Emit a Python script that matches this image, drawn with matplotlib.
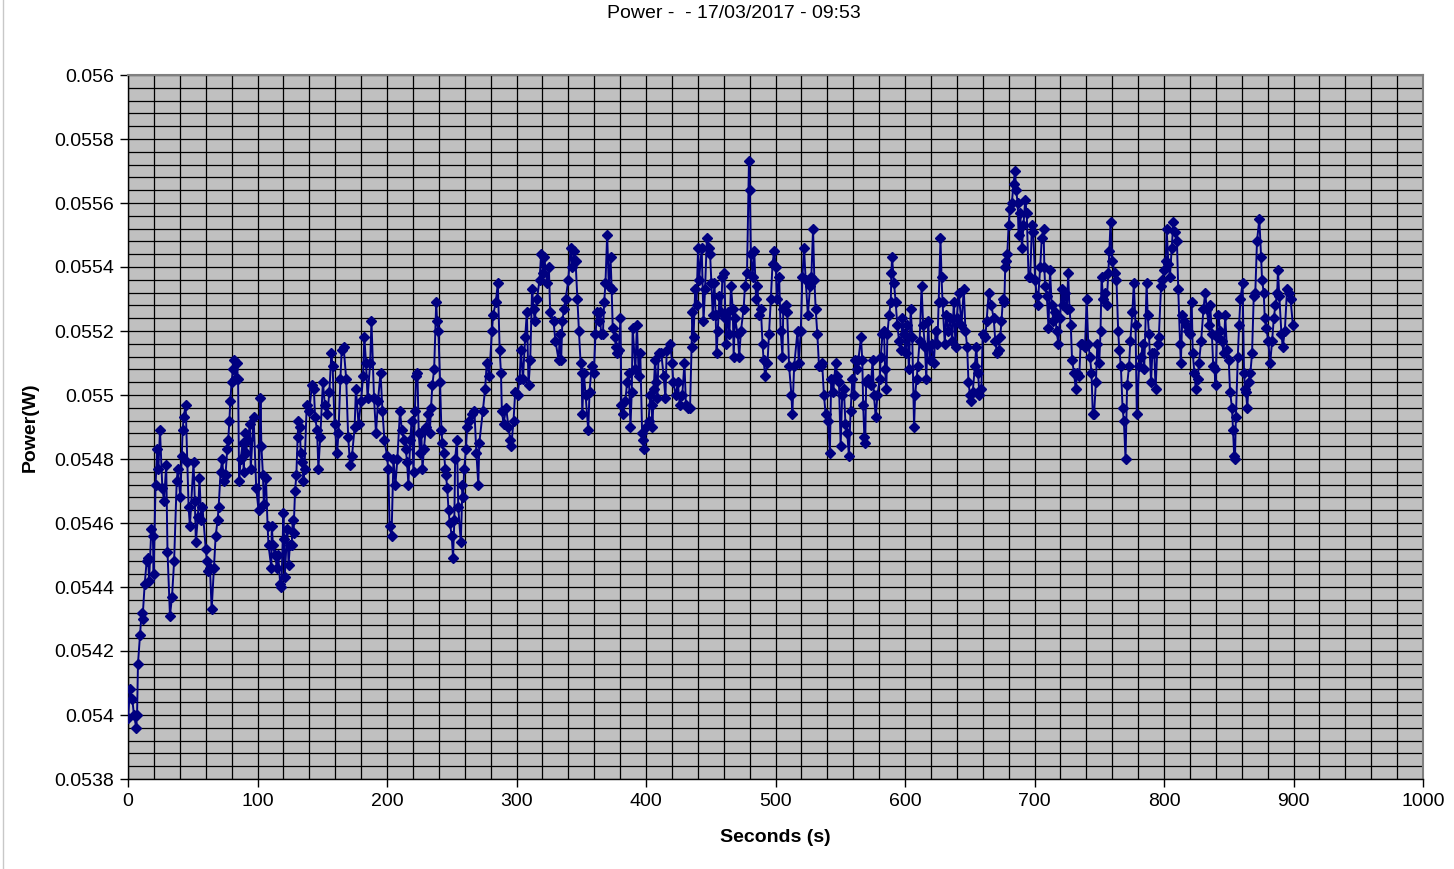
import numpy as np
import matplotlib
matplotlib.use("Agg")
import matplotlib.pyplot as plt
from matplotlib.ticker import MultipleLocator, FuncFormatter
from matplotlib.lines import Line2D

plt.rcParams['font.family'] = ['Liberation Sans', 'DejaVu Sans']

TITLE = "Power -  - 17/03/2017 - 09:53"
X_LABEL = "Seconds (s)"
Y_LABEL = "Power(W)"

# ---- data: time (s) and power (mW), in segments ----
t_a = [0, 1.5, 3.3, 4.6, 6.4, 7.0, 7.7, 9.3, 10.5, 11.2, 12.9, 14.4, 15.5, 16.3, 18, 19.2, 19.8,
       21.3, 22.5, 23.5, 24.7, 26.5, 27.8, 29.5, 30.5, 32.4, 34, 35.6, 37.6, 38.5, 40.4, 41.5, 42.2,
       43, 44.5, 45.8, 46.8, 47.8, 50.6, 51.6, 52.4, 54, 55.2, 56.5, 57.5, 60, 61, 61.8, 63.3, 64.6,
       66.4, 67.7, 69.2, 70, 71.5, 72.8, 73.8, 75.3, 76.6, 77.4, 78.3, 79, 80, 81, 82, 83, 84, 85,
       85.8, 87, 88.6, 89.4, 90.3, 91, 92.5, 94.2, 94.8, 97, 99, 100.8, 102.3, 103, 104.2, 104.9,
       106.5, 107.8, 108.5, 110.7]
p_a = [53.99, 54.08, 54.05, 54.00, 53.96, 54.00, 54.16, 54.25, 54.32, 54.30, 54.41, 54.48, 54.49,
       54.42, 54.58, 54.56, 54.44, 54.72, 54.83, 54.77, 54.89, 54.71, 54.67, 54.78, 54.51, 54.31,
       54.37, 54.48, 54.73, 54.77, 54.68, 54.81, 54.89, 54.93, 54.97, 54.79, 54.65, 54.59, 54.79,
       54.67, 54.54, 54.62, 54.74, 54.61, 54.65, 54.52, 54.48, 54.45, 54.46, 54.33, 54.46, 54.56,
       54.61, 54.65, 54.76, 54.80, 54.73, 54.75, 54.83, 54.86, 54.92, 54.98, 55.04, 55.08, 55.11,
       55.05, 55.10, 55.05, 54.73, 54.80, 54.85, 54.76, 54.88, 54.82, 54.86, 54.91, 54.77, 54.93,
       54.71, 54.64, 54.99, 54.84, 54.75, 54.66, 54.74, 54.59, 54.53, 54.46]

t_b = [111, 112, 113.5, 115, 116, 117.5, 118.5, 120, 120.5, 121, 123, 124, 125, 126.4, 127.2, 127.8,
       129, 130, 131, 131.6, 132.6, 133.4, 134.6, 135.5, 136.3, 138, 140, 142, 143.5, 144.5, 146,
       147, 148.5, 150.5, 152, 154, 155.5, 157, 158, 159.5, 161.5, 162.5, 164, 165, 166.5, 168.5,
       170, 171.5, 173, 175, 176, 178, 180, 181.5, 182.5, 183.8, 185, 187, 188, 190, 191.5, 193,
       195, 196.5, 198, 200, 201, 202, 203.5, 205, 206.5, 208, 210, 211.5, 213, 214.5, 215.5,
       216.5, 218, 219, 220.5, 221.5, 222.5, 223.5]
p_b = [54.59, 54.53, 54.50, 54.46, 54.50, 54.41, 54.40, 54.63, 54.55, 54.43, 54.58, 54.47, 54.53,
       54.53, 54.61, 54.57, 54.70, 54.75, 54.87, 54.92, 54.90, 54.82, 54.79, 54.73, 54.77, 54.97,
       54.95, 55.03, 55.02, 54.93, 54.89, 54.77, 54.87, 55.04, 54.97, 54.94, 55.01, 55.13, 55.09,
       54.91, 54.82, 54.88, 55.05, 55.14, 55.15, 55.05, 54.87, 54.78, 54.81, 54.90, 55.02, 54.91,
       54.98, 55.06, 55.18, 55.10, 54.99, 55.10, 55.23, 54.99, 54.88, 54.98, 55.07, 54.95, 54.86,
       54.81, 54.77, 54.59, 54.56, 54.80, 54.72, 54.80, 54.95, 54.89, 54.86, 54.83, 54.79, 54.72,
       54.86, 54.92, 54.76, 54.95, 55.06, 55.07]

t_c = [224.5, 225.5, 226.5, 227.4, 228.5, 230, 232, 233, 234, 235, 236.4, 238, 238.7, 239.7, 241,
       242, 242.8, 244, 245, 245.5, 246.5, 247.5, 248.5, 250, 251, 252, 252.6, 254, 255, 257,
       258.3, 258.8, 259.6, 261, 261.8, 263.7, 265.5, 267.5, 269, 270.5, 271.3, 274, 275.8, 277,
       279, 281, 282, 284, 285.6, 287, 288, 288.7, 290, 292, 293.8, 295.2, 296, 297.7, 299, 300.8,
       302.4, 303.4, 305, 306.7, 308, 309.3, 310.6, 312, 313.3, 314, 315.8, 317.8, 319, 320.5,
       321.5, 323.5, 325, 326, 328.6, 330, 332.5]
p_c = [54.88, 54.82, 54.88, 54.77, 54.83, 54.90, 54.94, 54.88, 54.96, 55.03, 55.08, 55.29, 55.23,
       55.20, 55.04, 54.89, 54.85, 54.82, 54.77, 54.75, 54.71, 54.64, 54.60, 54.56, 54.49, 54.61,
       54.80, 54.86, 54.65, 54.54, 54.72, 54.68, 54.77, 54.83, 54.90, 54.92, 54.94, 54.95, 54.82,
       54.72, 54.85, 54.95, 55.02, 55.10, 55.06, 55.20, 55.25, 55.29, 55.35, 55.14, 55.07, 54.95,
       54.91, 54.96, 54.90, 54.86, 54.84, 54.92, 55.01, 55.00, 55.05, 55.14, 55.05, 55.18, 55.26,
       55.03, 55.11, 55.33, 55.27, 55.23, 55.30, 55.36, 55.44, 55.38, 55.43, 55.35, 55.40, 55.26,
       55.23, 55.17, 55.11]

t_d = [333.5, 334.5, 335.4, 336.7, 338, 340, 341.8, 343, 344.4, 345.6, 347, 348.2, 349.5, 350.3,
       350.8, 352, 353.3, 355.4, 356.4, 358, 359.7, 361, 362.3, 363.6, 364.5, 365.3, 366.7, 367.7,
       368.7, 370, 371.3, 372.6, 373.5, 374.3, 376, 377, 377.7, 379, 380.3, 381, 382.3, 384, 385.4,
       386.7, 388, 389, 389.7, 391.8, 393, 394.4, 395.6, 397, 397.8, 398.5, 400, 402, 403.3, 404.3,
       405, 406, 407, 408, 408.8, 409.7, 411.8, 413.6, 415, 416, 418.7, 420.2, 421, 423, 424.6,
       426, 428, 429.7, 430.8, 432.8, 434, 435.2, 435.8, 436.7, 438, 439, 440.2, 441, 443, 444.4,
       445.6, 447]
p_d = [55.19, 55.11, 55.23, 55.27, 55.30, 55.36, 55.46, 55.40, 55.45, 55.42, 55.30, 55.20, 55.10,
       55.07, 54.94, 55.07, 55.00, 54.89, 55.01, 55.09, 55.07, 55.19, 55.26, 55.23, 55.26, 55.19,
       55.19, 55.29, 55.35, 55.50, 55.34, 55.43, 55.33, 55.21, 55.18, 55.15, 55.13, 55.14, 55.24,
       54.97, 54.94, 54.98, 55.04, 55.07, 54.90, 55.01, 55.21, 55.08, 55.22, 55.06, 55.13, 54.88,
       54.86, 54.83, 54.90, 54.92, 55.00, 54.97, 54.90, 55.02, 55.11, 55.04, 54.99, 55.13, 55.13,
       55.06, 54.99, 55.14, 55.16, 55.10, 55.04, 55.00, 55.04, 54.97, 55.00, 55.10, 54.97, 54.96,
       54.96, 55.15, 55.26, 55.18, 55.33, 55.28, 55.46, 55.36, 55.46, 55.23, 55.33, 55.49]

t_e = [448.5, 449.5, 450.5, 451.5, 452.8, 453.8, 454.5, 455.4, 456.7, 458, 459, 460.5, 461.3, 462,
       463, 464.4, 465.6, 467, 467.7, 468.7, 470.8, 472, 473.3, 475.4, 476.4, 478, 479.5, 480.2,
       481, 482.3, 483.6, 485, 486, 487.4, 488.7, 490, 490.8, 492, 493.8, 495, 496.4, 497.7, 499,
       500.3, 501, 502.8, 504, 505.4, 506, 508, 509, 510.5, 512.3, 513, 514.4, 517, 518, 519.5,
       520.8, 522, 523.3, 525, 526.7, 527.7, 529, 530, 531, 532.3, 533.6, 535, 536, 537.4, 538.7,
       540.5, 542, 543, 544.6, 546.4, 547.7, 549, 550.3, 551.5, 552.8, 554, 555.4, 556.7, 558,
       559.3]
p_e = [55.46, 55.44, 55.35, 55.25, 55.35, 55.25, 55.13, 55.20, 55.31, 55.26, 55.37, 55.38, 55.24,
       55.16, 55.26, 55.19, 55.34, 55.27, 55.12, 55.24, 55.19, 55.12, 55.20, 55.27, 55.34, 55.38,
       55.73, 55.64, 55.44, 55.37, 55.45, 55.30, 55.34, 55.25, 55.27, 55.16, 55.11, 55.06, 55.10,
       55.19, 55.30, 55.41, 55.45, 55.40, 55.30, 55.37, 55.20, 55.12, 55.27, 55.28, 55.26, 55.09,
       55.00, 54.94, 55.09, 55.20, 55.10, 55.20, 55.37, 55.46, 55.36, 55.25, 55.34, 55.37, 55.52,
       55.36, 55.27, 55.19, 55.09, 55.09, 55.10, 55.00, 54.94, 54.92, 54.82, 55.05, 55.01, 55.10,
       55.06, 55.04, 54.84, 55.00, 55.02, 54.91, 54.88, 54.81, 54.95, 55.05]

t_f = [560.8, 561.5, 562.6, 564, 566, 567, 567.7, 568.6, 569.3, 570, 571.8, 573.6, 575, 576, 577.4,
       578.7, 580.5, 581.3, 582.6, 583.8, 584.6, 585.6, 586.4, 587.7, 589, 589.5, 590, 591.5,
       592.8, 594, 595.4, 596.7, 598, 599, 600.5, 601.8, 603, 604.4, 605.6, 607, 607.8, 609, 609.8,
       611.3, 612.8, 614, 615.4, 616.4, 618, 619, 620.5, 622.3, 623.6, 625, 626, 627.4, 628.2,
       629, 630.7, 631.8, 633.3, 635, 636.4, 637.7, 639, 640, 641.5, 643.6, 645.4, 646.7, 648,
       649, 650.2, 650.8, 652.3, 654, 655, 656.4, 657.5, 659, 660, 662, 663, 664.6, 666.6, 668.5,
       669.7, 671]
p_f = [55.00, 55.11, 55.08, 55.11, 55.18, 55.11, 54.97, 54.87, 54.85, 55.04, 55.05, 55.03, 55.11,
       55.00, 54.93, 55.00, 55.05, 55.12, 55.19, 55.20, 55.08, 55.02, 55.19, 55.25, 55.29, 55.38,
       55.43, 55.35, 55.29, 55.22, 55.17, 55.14, 55.24, 55.19, 55.13, 55.22, 55.08, 55.27, 55.18,
       54.90, 55.00, 55.05, 55.09, 55.17, 55.34, 55.22, 55.15, 55.05, 55.23, 55.11, 55.16, 55.10,
       55.20, 55.16, 55.29, 55.49, 55.37, 55.29, 55.16, 55.25, 55.20, 55.24, 55.17, 55.29, 55.15,
       55.24, 55.32, 55.22, 55.33, 55.20, 55.15, 55.04, 55.00, 54.98, 55.01, 55.09, 55.15, 55.07,
       55.00, 55.02, 55.19, 55.18, 55.23, 55.32, 55.28, 55.24, 55.17, 55.13]

t_g = [672.5, 673.5, 674.5, 675.6, 676.7, 677.4, 678, 679, 680, 681, 682.5, 683.8, 685, 685.8, 687,
       687.7, 689, 690.3, 691.5, 692.8, 694, 695.4, 696.7, 698, 699, 700.5, 701.8, 702.5, 704.4,
       705.6, 707, 707.6, 708.2, 709.5, 710.8, 712, 713.3, 714.6, 716, 717, 718.5, 719.7, 721,
       722.3, 723.6, 725, 726, 727, 728, 729, 730.5, 731.8, 733, 734.6, 735.6, 737, 739, 740.3,
       741.5, 742.8, 744, 745, 746, 747.4, 748.5, 750, 751, 751.8, 753, 754.4, 755.6, 757, 757.8,
       758.7, 760, 762, 763.3, 764.6, 765.5, 766.7, 768, 769, 770.3, 771.5, 773, 774, 775.6,
       776.7, 778, 779, 780.7, 782.5]
p_g = [55.14, 55.18, 55.23, 55.30, 55.29, 55.40, 55.42, 55.44, 55.53, 55.58, 55.60, 55.66, 55.70,
       55.64, 55.60, 55.50, 55.57, 55.46, 55.53, 55.61, 55.57, 55.37, 55.37, 55.53, 55.51, 55.36,
       55.31, 55.28, 55.40, 55.49, 55.52, 55.40, 55.34, 55.31, 55.21, 55.39, 55.28, 55.23, 55.26,
       55.20, 55.16, 55.24, 55.33, 55.28, 55.32, 55.27, 55.38, 55.27, 55.22, 55.11, 55.07, 55.02,
       55.07, 55.06, 55.16, 55.16, 55.15, 55.30, 55.16, 55.12, 55.07, 54.94, 54.94, 55.04, 55.16,
       55.10, 55.20, 55.37, 55.30, 55.32, 55.28, 55.38, 55.45, 55.54, 55.42, 55.38, 55.36, 55.20,
       55.14, 55.09, 54.96, 54.92, 54.80, 55.03, 55.09, 55.17, 55.26, 55.35, 55.22, 54.94, 55.09,
       55.12]

t_h = [783.5, 784.7, 786.6, 787.4, 788.4, 790, 791, 792.5, 793.5, 795, 796, 797.7, 798.7, 800.3,
       801.3, 802, 803.4, 804.6, 806, 807.2, 808.5, 810, 811, 812.4, 813, 814.2, 815.8, 816.8,
       818.3, 820, 821.4, 822.2, 823.5, 824.5, 826, 827, 828.7, 830.5, 831.8, 833, 834.4, 835.7,
       837, 838, 839, 839.8, 840.8, 842, 843.4, 844.7, 846, 847.3, 848.6, 850, 851, 852.5, 853.3,
       854.2, 854.8, 855.5, 857, 858, 859, 860.7, 861.8, 862.5, 863.3, 864.3, 865.4, 866.7, 868,
       869.3, 870.5, 871.8, 873.6, 875, 875.7, 877, 877.8, 879, 880.4, 882, 883.5, 884.8, 886,
       887.4, 888, 889, 890.7, 891.7, 893.3, 895, 896.3, 897.7, 899.5]
p_h = [55.16, 55.08, 55.35, 55.25, 55.19, 55.04, 55.13, 55.13, 55.02, 55.16, 55.18, 55.34, 55.36,
       55.39, 55.42, 55.52, 55.41, 55.37, 55.46, 55.54, 55.51, 55.48, 55.33, 55.16, 55.10, 55.25,
       55.23, 55.22, 55.20, 55.19, 55.29, 55.13, 55.07, 55.02, 55.05, 55.10, 55.17, 55.27, 55.32,
       55.27, 55.22, 55.28, 55.19, 55.09, 55.08, 55.03, 55.18, 55.25, 55.20, 55.17, 55.13, 55.25,
       55.14, 55.11, 55.01, 54.96, 54.89, 54.81, 54.80, 54.93, 55.12, 55.22, 55.30, 55.35, 55.07,
       55.02, 55.01, 54.96, 55.04, 55.07, 55.13, 55.31, 55.32, 55.48, 55.55, 55.43, 55.36, 55.32,
       55.24, 55.21, 55.17, 55.10, 55.17, 55.24, 55.28, 55.32, 55.39, 55.31, 55.19, 55.15, 55.20,
       55.33, 55.32, 55.30, 55.22]

segments = [(t_a, p_a), (t_b, p_b), (t_c, p_c), (t_d, p_d),
            (t_e, p_e), (t_f, p_f), (t_g, p_g), (t_h, p_h)]
seconds, power = [], []
for ts, ps in segments:
    n = min(len(ts), len(ps))
    seconds.extend(ts[:n])
    power.extend(ps[:n])
seconds = np.array(seconds, dtype=float)
power = np.array(power, dtype=float) / 1000.0  # mW -> W

# ---- figure ----
W, H = 1454, 869
fig = plt.figure(figsize=(W / 100, H / 100), dpi=100)
ax = fig.add_axes([128 / W, 1 - 779 / H, (1423 - 128) / W, (779 - 75) / H])
ax.set_facecolor('#C0C0C0')

ax.plot(seconds, power, color='#000080', linewidth=1.4, marker='D', markersize=4.8,
        markerfacecolor='#000080', markeredgecolor='#000080', zorder=3)

ax.set_xlim(0, 1000)
ax.set_ylim(0.0538, 0.056)
ax.xaxis.set_major_locator(MultipleLocator(100))
ax.xaxis.set_minor_locator(MultipleLocator(20))
ax.yaxis.set_major_locator(MultipleLocator(0.0002))
ax.yaxis.set_minor_locator(MultipleLocator(0.00004))
ax.yaxis.set_major_formatter(FuncFormatter(lambda v, pos: f"{round(v, 5):g}"))

ax.set_axisbelow(True)
ax.grid(True, which='both', color='black', linewidth=0.9)
ax.tick_params(axis='both', which='major', direction='out', length=6, width=1,
               labelsize=14, color='black', pad=4)
ax.tick_params(axis='both', which='minor', length=0)

for side in ('top', 'right'):
    ax.spines[side].set_color('#808080')
    ax.spines[side].set_linewidth(1.5)
for side in ('left', 'bottom'):
    ax.spines[side].set_color('black')
    ax.spines[side].set_linewidth(1.0)

ax.set_xlabel(X_LABEL, fontsize=14, fontweight='bold', labelpad=14)
ax.set_ylabel(Y_LABEL, fontsize=14, fontweight='bold', labelpad=11)
fig.text(734 / W, 1 - 14 / H, TITLE, ha='center', va='center', fontsize=14)

fig.add_artist(Line2D([2.5 / W, 2.5 / W], [0, 1], color='#c8c8c8', linewidth=1.0))

fig.savefig('out.png', dpi=100)
